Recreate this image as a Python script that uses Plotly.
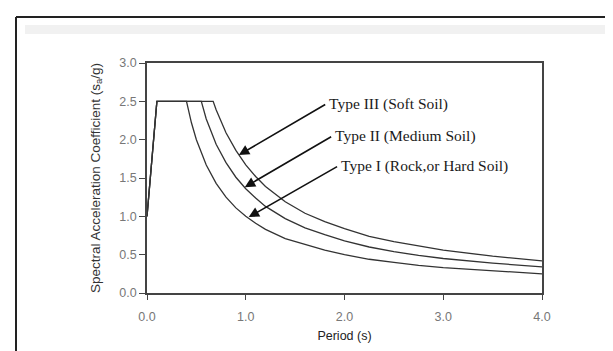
import plotly.graph_objects as go

# Period values (s) and spectral acceleration coefficients
t_type1 = [0.0, 0.1, 0.4, 0.45, 0.5, 0.6, 0.7, 0.8, 0.9, 1.0, 1.1, 1.2, 1.4, 1.6, 1.8, 2.0, 2.25, 2.5, 2.75, 3.0, 3.5, 4.0]
sa_type1 = [1.0, 2.5, 2.5, 2.22, 2.0, 1.67, 1.43, 1.25, 1.11, 1.0, 0.91, 0.83, 0.71, 0.63, 0.56, 0.5, 0.44, 0.4, 0.36, 0.33, 0.29, 0.25]

t_type2 = [0.0, 0.1, 0.55, 0.6, 0.7, 0.8, 0.9, 1.0, 1.1, 1.2, 1.4, 1.6, 1.8, 2.0, 2.25, 2.5, 2.75, 3.0, 3.5, 4.0]
sa_type2 = [1.0, 2.5, 2.5, 2.27, 1.94, 1.70, 1.51, 1.36, 1.24, 1.13, 0.97, 0.85, 0.76, 0.68, 0.60, 0.54, 0.49, 0.45, 0.39, 0.34]

t_type3 = [0.0, 0.1, 0.67, 0.7, 0.8, 0.9, 1.0, 1.1, 1.2, 1.4, 1.6, 1.8, 2.0, 2.25, 2.5, 2.75, 3.0, 3.5, 4.0]
sa_type3 = [1.0, 2.5, 2.5, 2.39, 2.09, 1.86, 1.67, 1.52, 1.39, 1.19, 1.04, 0.93, 0.84, 0.74, 0.67, 0.61, 0.56, 0.48, 0.42]

x_ticks = [0, 1, 2, 3, 4]
x_tick_labels = ["0.0", "1.0", "2.0", "3.0", "4.0"]
y_ticks = [0, 0.5, 1.0, 1.5, 2.0, 2.5, 3.0]
y_tick_labels = ["0.0", "0.5", "1.0", "1.5", "2.0", "2.5", "3.0"]

labels = ["Type III (Soft Soil)", "Type II (Medium Soil)", "Type I (Rock,or Hard Soil)"]
label_pos = [(1.82, 2.47), (1.88, 2.05), (1.94, 1.66)]
arrow_tip = [(0.93, 1.80), (0.99, 1.38), (1.03, 0.99)]

line_color = "#333333"

fig = go.Figure()
for t, sa, name in [(t_type1, sa_type1, "Type I"), (t_type2, sa_type2, "Type II"), (t_type3, sa_type3, "Type III")]:
    fig.add_trace(go.Scatter(x=t, y=sa, mode="lines", name=name,
                             line=dict(color=line_color, width=1.3), showlegend=False))

for text, (tx, ty), (ax, ay) in zip(labels, label_pos, arrow_tip):
    fig.add_annotation(x=ax, y=ay, ax=tx, ay=ty, xref="x", yref="y", axref="x", ayref="y",
                       showarrow=True, arrowhead=2, arrowsize=1.3, arrowwidth=1.6,
                       arrowcolor="#111111", text="")
    fig.add_annotation(x=tx, y=ty, xref="x", yref="y", text=text, showarrow=False,
                       xanchor="left", yanchor="middle",
                       font=dict(family="Liberation Serif", size=15.5, color="#1a1a1a"))

# page decorations: frame and light band at top
L, R, T, B = 139, 79, 55, 66
W, H = 613, 351
pw, ph = W - L - R, H - T - B
def px(x):
    return (x - L) / pw
def py(y):
    return (H - B - y) / ph

fig.add_shape(type="rect", xref="paper", yref="paper", x0=px(17), x1=px(608), y0=py(26), y1=py(17),
              fillcolor="#f1f1f1", line=dict(width=0), layer="below")
fig.add_shape(type="line", xref="paper", yref="paper", x0=px(8), x1=px(613), y0=py(9), y1=py(9),
              line=dict(color="#222222", width=2))
fig.add_shape(type="line", xref="paper", yref="paper", x0=px(8), x1=px(8), y0=py(9), y1=py(351),
              line=dict(color="#222222", width=2))

axis_font = dict(family="Liberation Sans", size=12.5, color="#777777")
fig.update_xaxes(range=[0, 4], tickvals=x_ticks, ticktext=x_tick_labels, showgrid=False, zeroline=False,
                 showline=True, mirror=True, linecolor="#444444", linewidth=1.6,
                 ticks="outside", ticklen=5, tickcolor="#444444", tickfont=axis_font, ticklabelstandoff=6,
                 title=dict(text="Period (s)", font=dict(family="Liberation Sans", size=12.5, color="#222222"), standoff=8))
fig.update_yaxes(range=[0, 3], tickvals=y_ticks, ticktext=y_tick_labels, showgrid=False, zeroline=False,
                 showline=True, mirror=True, linecolor="#444444", linewidth=1.6,
                 ticks="outside", ticklen=6, tickcolor="#444444", tickfont=axis_font,
                 title=dict(text="Spectral Acceleration Coefficient (s<sub>a</sub>/g)",
                            font=dict(family="Liberation Sans", size=13.5, color="#333333"), standoff=16))

fig.update_layout(width=W, height=H, margin=dict(l=L, r=R, t=T, b=B),
                  plot_bgcolor="white", paper_bgcolor="white")

fig.write_html("out.html")
